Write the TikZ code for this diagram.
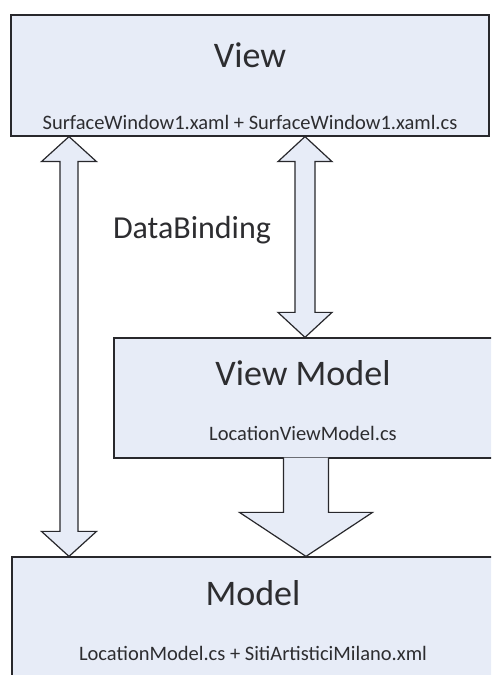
\documentclass[tikz,border=0pt]{standalone}
\usepackage{fontspec}
\setmainfont{Carlito}
\usepackage{tikz}
\usetikzlibrary{calc}

\definecolor{boxfill}{RGB}{231,236,247}
\definecolor{boxline}{RGB}{40,40,44}
\definecolor{textgray}{RGB}{45,45,48}

\tikzset{
    layer/.style={rectangle, draw=boxline, line width=1.2pt, fill=boxfill},
    title/.style={text=textgray, font=\fontsize{36}{40}\selectfont},
    file/.style={text=textgray, font=\fontsize{20.5}{24}\selectfont},
    blockarrow/.style={draw=boxline, line width=1.2pt, fill=boxfill, line join=miter},
    % hollow arrow with a head at both ends: shaft half width, head half width, head length
    both ways/.style n args={3}{to path={
        let \p1=(\tikztostart), \p2=(\tikztotarget) in
        (\x1,\y1) -- (\x1+#2,\y1-#3) -- (\x1+#1,\y1-#3) -- (\x2+#1,\y2+#3)
        -- (\x2+#2,\y2+#3) -- (\x2,\y2) -- (\x2-#2,\y2+#3) -- (\x2-#1,\y2+#3)
        -- (\x1-#1,\y1-#3) -- (\x1-#2,\y1-#3) -- cycle
    }},
    % hollow arrow pointing down, left open at its top
    one way/.style n args={3}{to path={
        let \p1=(\tikztostart), \p2=(\tikztotarget) in
        (\x1-#1,\y1+1pt) -- (\x1-#1,\y2+#3) -- (\x1-#2,\y2+#3) -- (\x2,\y2)
        -- (\x1+#2,\y2+#3) -- (\x1+#1,\y2+#3) -- (\x1+#1,\y1+1pt)
    }}
}

\begin{document}
\begin{tikzpicture}[x=1pt, y=1pt]
\useasboundingbox (0,0) rectangle (491,675);
\clip (0,0) rectangle (491,675);

% the three layers
\node[layer, minimum width=478, minimum height=121] (view) at (250,599.5) {};
\node[layer, minimum width=386, minimum height=120] (vm) at (307,277) {};
\node[layer, minimum width=488, minimum height=143] (model) at (256,46.5) {};

\node[title] (viewtitle) at (250,620) {View};
\node[file] (viewfile) at (250,553) {SurfaceWindow1.xaml + SurfaceWindow1.xaml.cs};
\node[title] (vmtitle) at (303,302) {View Model};
\node[file] (vmfile) at (303,242) {LocationViewModel.cs};
\node[title] (modeltitle) at (253,82) {Model};
\node[file] (modelfile) at (253,22) {LocationModel.cs + SitiArtisticiMilano.xml};

\node[text=textgray, font=\fontsize{32}{35}\selectfont] (binding) at (192,445) {DataBinding};

% arrows between the layers
\coordinate (lx) at (69,0);
\coordinate (mx) at (305,0);
\coordinate (dx) at (306,0);

\draw[blockarrow] (view.south -| lx) to[both ways={9pt}{27.5pt}{25pt}] (model.north -| lx);
\draw[blockarrow] (view.south -| mx) to[both ways={10pt}{27pt}{25pt}] (vm.north -| mx);
\draw[blockarrow] (vm.south -| dx) to[one way={22.5pt}{66.5pt}{44pt}] (model.north -| dx);

\end{tikzpicture}
\end{document}
